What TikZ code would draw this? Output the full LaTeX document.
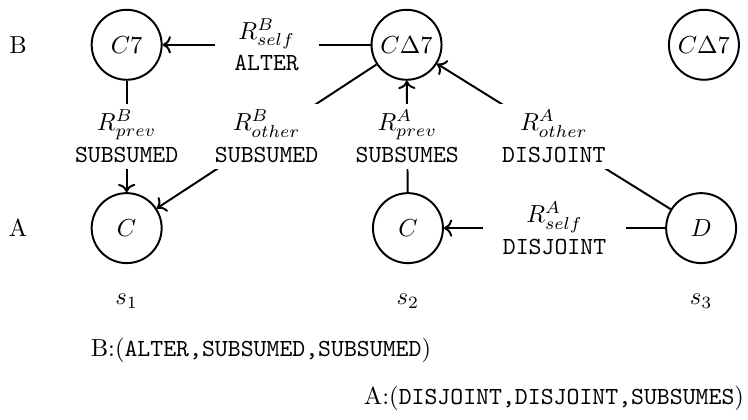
\documentclass[tikz,border=0pt]{standalone}
\usepackage{amsmath}
\usepackage{amssymb}
\usepackage{tikz}
\usetikzlibrary{arrows.meta, positioning}

\begin{document}
\begin{tikzpicture}[
  state/.style={draw, circle, thick, minimum size=1cm, inner sep=1pt},
  rel/.style={fill=white, align=center, inner xsep=8pt, inner ysep=2.5pt},
  a/.style={->, thick}
]
\useasboundingbox (0,0) rectangle (10.69,-5.99);
% rows
\node (rowB) at (0.26,-0.64) {B};
\node (rowA) at (0.26,-3.26) {A};

% states
\node[state] (b1) at (1.81,-0.64) {$C7$};
\node[state] (b2) at (5.81,-0.64) {$C\Delta 7$};
\node[state] (b3) at (10.06,-0.64) {$C\Delta 7$};
\node[state] (a1) at (1.81,-3.26) {$C$};
\node[state] (a2) at (5.83,-3.26) {$C$};
\node[state] (a3) at (10.02,-3.26) {$D$};

% steps
\node (s1) at (1.81,-4.3) {$s_1$};
\node (s2) at (5.83,-4.3) {$s_2$};
\node (s3) at (10.02,-4.3) {$s_3$};

% relations
\draw[a] (b2) -- node[rel] {$R^{B}_{self}$\\[1pt]\texttt{ALTER}} (b1);
\draw[a] (b1) -- node[rel] {$R^{B}_{prev}$\\[1pt]\texttt{SUBSUMED}} (a1);
\draw[a] (b2) -- node[rel] {$R^{B}_{other}$\\[1pt]\texttt{SUBSUMED}} (a1);
\draw[a] (a2) -- node[rel] {$R^{A}_{prev}$\\[1pt]\texttt{SUBSUMES}} (b2);
\draw[a] (a3) -- node[rel] {$R^{A}_{other}$\\[1pt]\texttt{DISJOINT}} (b2);
\draw[a] (a3) -- node[rel] {$R^{A}_{self}$\\[1pt]\texttt{DISJOINT}} (a2);

% sequences
\node[anchor=west, inner sep=0pt] (seqB) at (1.29,-5.01) {B:(\texttt{ALTER,SUBSUMED,SUBSUMED})};
\node[anchor=east, inner sep=0pt] (seqA) at (10.64,-5.69) {A:(\texttt{DISJOINT,DISJOINT,SUBSUMES})};
\end{tikzpicture}
\end{document}
